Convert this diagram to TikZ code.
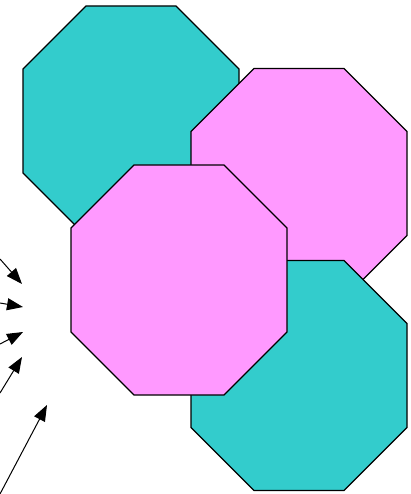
\documentclass[tikz,border=0pt]{standalone}
\usetikzlibrary{arrows.meta}
\definecolor{octteal}{RGB}{51,204,204}
\definecolor{octpink}{RGB}{255,153,255}
\begin{document}
\begin{tikzpicture}[x=1pt, y=-1pt, line join=round,
    >={Triangle[length=16pt, width=12pt]},
    tealoct/.style={fill=octteal, draw=black, line width=1.3pt},
    pinkoct/.style={fill=octpink, draw=black, line width=1.3pt},
    pointer/.style={->, line width=1pt}]
  \useasboundingbox (0, 0) rectangle (411, 494);

  % Octagon 1: teal, top left
  \begin{scope}[shift={(131, 121)}]
    \draw[tealoct] (-45, -115) -- (45, -115) -- (108, -52) -- (108, 52)
      -- (45, 115) -- (-45, 115) -- (-108, 52) -- (-108, -52) -- cycle;
  \end{scope}

  % Octagon 2: pink, top right
  \begin{scope}[shift={(299, 183.5)}]
    \draw[pinkoct] (-45, -115) -- (45, -115) -- (108, -52) -- (108, 52)
      -- (45, 115) -- (-45, 115) -- (-108, 52) -- (-108, -52) -- cycle;
  \end{scope}

  % Octagon 4: teal, bottom right
  \begin{scope}[shift={(299, 375.5)}]
    \draw[tealoct] (-45, -115) -- (45, -115) -- (108, -52) -- (108, 52)
      -- (45, 115) -- (-45, 115) -- (-108, 52) -- (-108, -52) -- cycle;
  \end{scope}

  % Octagon 3: pink, middle
  \begin{scope}[shift={(179, 280)}]
    \draw[pinkoct] (-45, -115) -- (45, -115) -- (108, -52) -- (108, 52)
      -- (45, 115) -- (-45, 115) -- (-108, 52) -- (-108, -52) -- cycle;
  \end{scope}

  % Arrows from the left edge
  \coordinate (a1s) at (0, 259);
  \coordinate (a1e) at (22, 284);
  \coordinate (a2s) at (0, 303);
  \coordinate (a2e) at (23, 307);
  \coordinate (a3s) at (0, 344);
  \coordinate (a3e) at (23, 332);
  \coordinate (a4s) at (0, 393);
  \coordinate (a4e) at (22, 357);
  \coordinate (a5s) at (0, 494);
  \coordinate (a5e) at (47, 405);
  \draw[pointer] (a1s) -- (a1e);
  \draw[pointer] (a2s) -- (a2e);
  \draw[pointer] (a3s) -- (a3e);
  \draw[pointer] (a4s) -- (a4e);
  \draw[pointer] (a5s) -- (a5e);
\end{tikzpicture}
\end{document}
